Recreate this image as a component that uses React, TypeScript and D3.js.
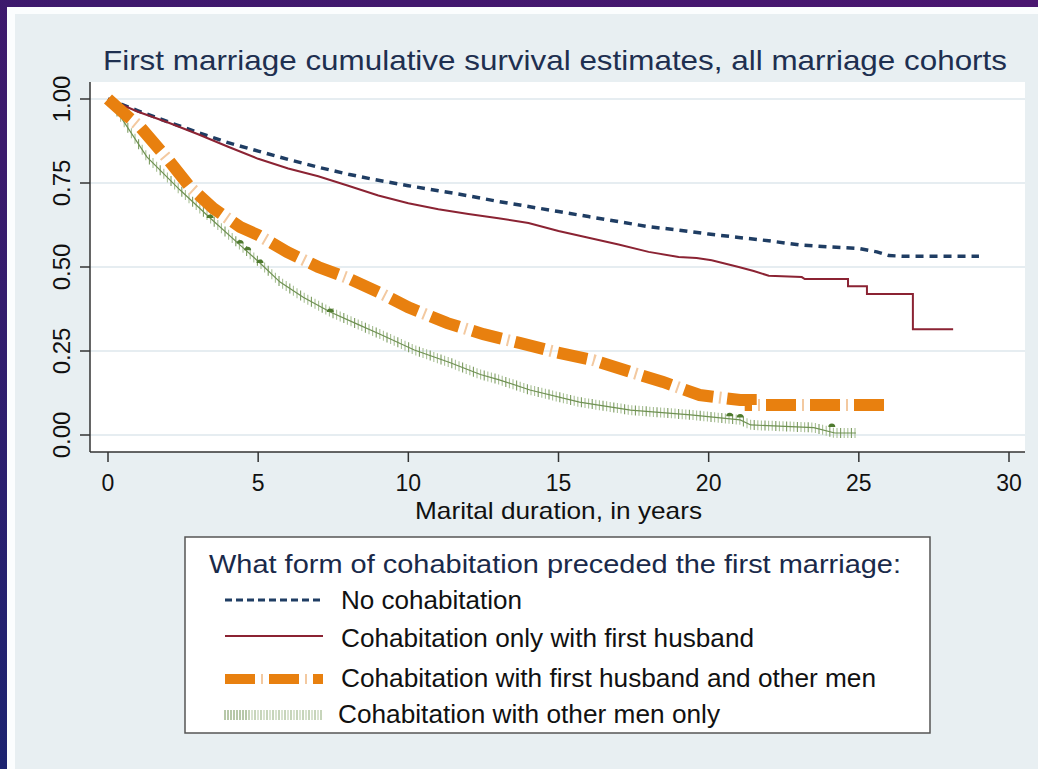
import React from "react";
import * as d3 from "d3";

// ---- Data ----
const xTicks = [0, 5, 10, 15, 20, 25, 30];
const yTicks = [0, 0.25, 0.5, 0.75, 1];
const yTickLabels = ["0.00", "0.25", "0.50", "0.75", "1.00"];

const seriesNames = [
  "No cohabitation",
  "Cohabitation only with first husband",
  "Cohabitation with first husband and other men",
  "Cohabitation with other men only",
];

// [years, survival]
const noCohab: [number, number][] = [
  [0, 1.0], [1, 0.965], [2, 0.932], [3, 0.9], [4, 0.87], [5, 0.845], [6, 0.82],
  [7, 0.797], [8, 0.776], [9, 0.758], [10, 0.742], [11, 0.727], [12, 0.712],
  [13, 0.695], [14, 0.68], [15, 0.665], [16, 0.65], [17, 0.635], [18, 0.62],
  [19, 0.61], [20, 0.598], [21, 0.588], [22, 0.578], [23, 0.566], [24, 0.56],
  [25, 0.555], [25.6, 0.545], [26.0, 0.534], [26.5, 0.532], [29.0, 0.532],
];

const firstHusbandOnly: [number, number][] = [
  [0, 1.0], [1, 0.962], [2, 0.93], [3, 0.895], [4, 0.858], [5, 0.822], [6, 0.793],
  [7, 0.77], [8, 0.742], [9, 0.713], [10, 0.69], [11, 0.672], [12, 0.658],
  [13, 0.645], [14, 0.631], [15, 0.607], [16, 0.587], [17, 0.567], [18, 0.545],
  [19, 0.53], [19.6, 0.527], [20.1, 0.52], [21.0, 0.5], [21.5, 0.488],
  [22.0, 0.474], [23.1, 0.47], [23.2, 0.464], [24.64, 0.464], [24.64, 0.443],
  [25.27, 0.443], [25.27, 0.42], [26.8, 0.42], [26.8, 0.315], [28.14, 0.315],
];

const firstHusbandAndOthers: [number, number][] = [
  [0, 1.0], [0.5, 0.96], [1.07, 0.917], [2, 0.82], [2.73, 0.738], [3.5, 0.675],
  [4.4, 0.619], [5.0, 0.595], [5.96, 0.545], [7, 0.5], [7.96, 0.468], [9.06, 0.423],
  [10, 0.38], [11.3, 0.333], [12.5, 0.3], [13.7, 0.274], [14.95, 0.246],
  [16.15, 0.223], [17.38, 0.188], [18.48, 0.158], [19.7, 0.119], [21.05, 0.104],
  [21.4, 0.104], [21.4, 0.089], [25.97, 0.089],
];

const otherMenOnly: [number, number][] = [
  [0, 1.0], [0.4, 0.95], [1.3, 0.827], [2.4, 0.729], [3.4, 0.646], [4.4, 0.565],
  [5.06, 0.512], [5.73, 0.455], [6.5, 0.41], [7.4, 0.366], [8.3, 0.33],
  [9.06, 0.3], [10.2, 0.253], [11.4, 0.215], [12.4, 0.18], [13.0, 0.165],
  [14.05, 0.134], [15.7, 0.098], [17.4, 0.074], [19.4, 0.06], [21.05, 0.045],
  [21.4, 0.03], [23.5, 0.022], [24.2, 0.006], [24.9, 0.006],
];

// dark-green marker spots on the last curve
const otherMenMarkers: [number, number][] = [
  [3.4, 0.646], [4.4, 0.57], [4.65, 0.55], [5.06, 0.512], [7.4, 0.366],
  [20.7, 0.056], [21.05, 0.052], [24.1, 0.024],
];

const W = 1038;
const H = 769;
const FONT = "'Liberation Sans', Arial, Helvetica, sans-serif";

export default function App() {
  const plot = { left: 90, right: 1025, top: 82, bottom: 452 };
  const x = d3.scaleLinear().domain([0, 30]).range([108, 1009]);
  const y = d3.scaleLinear().domain([0, 1]).range([435, 99]);

  const line = d3
    .line<[number, number]>()
    .x((d) => x(d[0]))
    .y((d) => y(d[1]));

  // censoring tick marks along the green curve
  const greenInterp = (t: number) => {
    const i = d3.bisector((d: [number, number]) => d[0]).right(otherMenOnly, t);
    if (i <= 0) return otherMenOnly[0][1];
    if (i >= otherMenOnly.length) return otherMenOnly[otherMenOnly.length - 1][1];
    const a = otherMenOnly[i - 1];
    const b = otherMenOnly[i];
    const f = (t - a[0]) / (b[0] - a[0] || 1);
    return a[1] + (b[1] - a[1]) * f;
  };
  const greenTicks: number[] = [];
  const gEnd = otherMenOnly[otherMenOnly.length - 1][0];
  for (let px = x(0.3); px <= x(gEnd); px += 3.6) greenTicks.push(x.invert(px));

  const legendTicks: number[] = [];
  for (let px = 225; px <= 322; px += 3) legendTicks.push(px);

  return (
    <svg
      width={W}
      height={H}
      style={{ position: "absolute", left: 0, top: 0, display: "block" }}
      fontFamily={FONT}
    >
      <defs>
        <linearGradient id="bgGrad" x1="1" y1="0" x2="0" y2="1">
          <stop offset="0" stopColor="#4a1670" />
          <stop offset="0.6" stopColor="#3a1a6c" />
          <stop offset="1" stopColor="#1b2370" />
        </linearGradient>
      </defs>
      <rect x={0} y={0} width={W} height={H} fill="url(#bgGrad)" />
      <rect x={7} y={7} width={W - 7} height={H - 7} fill="#fbfdfe" />
      <rect x={15} y={14} width={W - 15} height={H - 14} fill="#e8eff2" />

      {/* title */}
      <text x={103} y={70} fontSize={28} fill="#1e2f50" textLength={904} lengthAdjust="spacingAndGlyphs">
        First marriage cumulative survival estimates, all marriage cohorts
      </text>

      {/* plot area */}
      <rect
        x={plot.left}
        y={plot.top}
        width={plot.right - plot.left}
        height={plot.bottom - plot.top}
        fill="#ffffff"
      />
      {yTicks.map((t) => (
        <line
          key={"g" + t}
          x1={plot.left}
          x2={plot.right}
          y1={y(t)}
          y2={y(t)}
          stroke="#e6edf1"
          strokeWidth={2}
        />
      ))}

      {/* axes */}
      <line x1={plot.left} x2={plot.left} y1={plot.top} y2={plot.bottom} stroke="#333" strokeWidth={1.5} />
      <line x1={plot.left} x2={plot.right} y1={plot.bottom} y2={plot.bottom} stroke="#333" strokeWidth={1.5} />
      {yTicks.map((t, i) => (
        <g key={"yt" + t}>
          <line x1={plot.left - 10} x2={plot.left} y1={y(t)} y2={y(t)} stroke="#333" strokeWidth={1.5} />
          <text
            transform={`translate(70,${y(t)}) rotate(-90)`}
            textAnchor="middle"
            fontSize={24}
            fill="#111"
          >
            {yTickLabels[i]}
          </text>
        </g>
      ))}
      {xTicks.map((t) => (
        <g key={"xt" + t}>
          <line x1={x(t)} x2={x(t)} y1={plot.bottom} y2={plot.bottom + 10} stroke="#333" strokeWidth={1.5} />
          <text x={x(t)} y={491} textAnchor="middle" fontSize={23} fill="#111">
            {t}
          </text>
        </g>
      ))}
      <text x={415} y={519} fontSize={24} fill="#111" textLength={287} lengthAdjust="spacingAndGlyphs">
        Marital duration, in years
      </text>

      {/* curves */}
      <path d={line(noCohab) || ""} fill="none" stroke="#1f3d63" strokeWidth={3.5} strokeDasharray="8 6" />
      <path d={line(firstHusbandOnly) || ""} fill="none" stroke="#8b2333" strokeWidth={2} />

      {/* green: other men only */}
      {greenTicks.map((t, i) => (
        <line
          key={"gt" + i}
          x1={x(t)}
          x2={x(t)}
          y1={y(greenInterp(t)) - 5}
          y2={y(greenInterp(t)) + 5}
          stroke={i % 3 === 0 ? "#7d9c62" : "#a9c096"}
          strokeWidth={1.1}
        />
      ))}
      <path d={line(otherMenOnly) || ""} fill="none" stroke="#6f9152" strokeWidth={1.2} />
      {otherMenMarkers.map((d, i) => (
        <path
          key={"gm" + i}
          d={`M${x(d[0]) - 3.5},${y(d[1])} A3.5,3.5 0 0 1 ${x(d[0]) + 3.5},${y(d[1])} Z`}
          fill="#4f7a2f"
        />
      ))}

      {/* orange: first husband and other men */}
      <path
        d={line(firstHusbandAndOthers) || ""}
        fill="none"
        stroke="#e8800f"
        strokeWidth={12}
        strokeDasharray="30 14"
      />
      <path
        d={line(firstHusbandAndOthers) || ""}
        fill="none"
        stroke="#f3c9a0"
        strokeWidth={12}
        strokeDasharray="2 42"
        strokeDashoffset={8}
      />

      {/* legend */}
      <rect x={185} y={537} width={745} height={196} fill="#ffffff" stroke="#555" strokeWidth={1.5} />
      <text x={209} y={573} fontSize={26} fill="#1a2a4a" textLength={692} lengthAdjust="spacingAndGlyphs">
        What form of cohabitation preceded the first marriage:
      </text>
      <line x1={225} x2={323} y1={600} y2={600} stroke="#1f3d63" strokeWidth={3} strokeDasharray="7 4" />
      <line x1={225} x2={323} y1={636} y2={636} stroke="#8b2333" strokeWidth={2} />
      <line x1={225} x2={323} y1={679} y2={679} stroke="#e8800f" strokeWidth={10} strokeDasharray="30 14" />
      <line x1={225} x2={323} y1={679} y2={679} stroke="#f3c9a0" strokeWidth={10} strokeDasharray="2 42" strokeDashoffset={8} />
      {legendTicks.map((px, i) => (
        <line
          key={"lt" + i}
          x1={px}
          x2={px}
          y1={710}
          y2={720}
          stroke={i < 8 ? "#6f9152" : i % 2 ? "#b2c6a0" : "#8fab77"}
          strokeWidth={1}
        />
      ))}
      <text x={341} y={609} fontSize={26} fill="#111" textLength={181} lengthAdjust="spacingAndGlyphs">{seriesNames[0]}</text>
      <text x={341} y={647} fontSize={26} fill="#111" textLength={413} lengthAdjust="spacingAndGlyphs">{seriesNames[1]}</text>
      <text x={341} y={687} fontSize={26} fill="#111" textLength={535} lengthAdjust="spacingAndGlyphs">{seriesNames[2]}</text>
      <text x={338} y={723} fontSize={26} fill="#111" textLength={382} lengthAdjust="spacingAndGlyphs">{seriesNames[3]}</text>
    </svg>
  );
}
